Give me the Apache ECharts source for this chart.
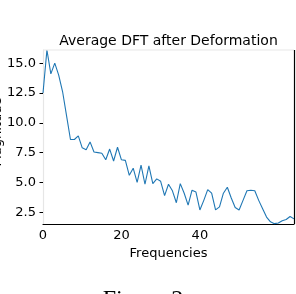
<!DOCTYPE html>
<html><head><meta charset="utf-8">
<script src="https://cdn.jsdelivr.net/npm/echarts@6/dist/echarts.min.js"></script>
<style>html,body{margin:0;padding:0;background:#fff}#c{width:296px;height:294px}</style>
</head><body><div id="c"></div>
<script>
const titleText = "Average DFT after Deformation";
const xLabel = "Frequencies";
const yLabel = "Magnitude";
const caption = "Figure 2";
const yTicks = [2.5, 5.0, 7.5, 10.0, 12.5, 15.0];
const xTicks = [0, 20, 40, 60];
const magnitudes = [
  12.5, 16.1, 14.1, 15.0, 14.0, 12.6, 10.6, 8.6, 8.6, 8.9,
  7.9, 7.75, 8.4, 7.55, 7.5, 7.45, 6.9, 7.8, 6.8, 7.95,
  6.9, 6.85, 5.6, 6.2, 5.0, 6.45, 4.85, 6.4, 4.9, 5.3,
  5.1, 3.9, 4.85, 4.3, 3.3, 4.9, 4.1, 3.1, 4.35, 4.2,
  2.7, 3.5, 4.4, 4.1, 2.7, 2.95, 4.1, 4.6, 3.7, 2.9,
  2.7, 3.5, 4.3, 4.35, 4.3, 3.5, 2.8, 2.1, 1.7, 1.55,
  1.6, 1.8, 1.9, 2.15, 1.95
];
const frequencies = magnitudes.map((_, i) => i);

const chart = echarts.init(document.getElementById('c'), null, {renderer: 'canvas'});
const font = 'DejaVu Sans';
chart.setOption({
  animation: false,
  backgroundColor: '#fff',
  grid: {left: 43, right: 2, top: 50, bottom: 70, containLabel: false},
  xAxis: {
    type: 'value', min: 0, max: 64, interval: 20,
    axisLine: {show: true, lineStyle: {color: '#000', width: 1.2}},
    axisTick: {show: false},
    splitLine: {show: false},
    axisLabel: {show: true, color: '#000', fontFamily: font, fontSize: 13, margin: 5, showMaxLabel: false,
      customValues: xTicks},
    name: xLabel, nameLocation: 'middle', nameGap: 21,
    nameTextStyle: {color: '#000', fontFamily: font, fontSize: 13}
  },
  yAxis: {
    type: 'value', min: 1.52, max: 16.1,
    axisLine: {show: true, lineStyle: {color: '#e6e6e6', width: 1.2}},
    axisTick: {show: true, length: 3.5, inside: false, lineStyle: {color: '#000', width: 1}, customValues: yTicks},
    splitLine: {show: false},
    axisLabel: {show: true, color: '#000', fontFamily: font, fontSize: 13, margin: 7,
      customValues: yTicks, formatter: v => v.toFixed(1)}
  },
  graphic: [
    {type: 'line', shape: {x1: 43, y1: 50, x2: 294, y2: 50}, style: {stroke: '#e8e8e8', lineWidth: 1.2}, z: 10},
    {type: 'line', shape: {x1: 294.5, y1: 50, x2: 294.5, y2: 224}, style: {stroke: '#000', lineWidth: 1.2}, z: 10},
    {type: 'text', x: 168.5, y: 41, style: {text: titleText, fontFamily: font, fontSize: 14, fill: '#000', textAlign: 'center', textVerticalAlign: 'middle'}},
    {type: 'text', x: -2, y: 132, rotation: Math.PI / 2, style: {text: yLabel, fontFamily: font, fontSize: 13, fill: '#000', textAlign: 'center', textVerticalAlign: 'middle'}},
    {type: 'text', x: 143, y: 288, style: {text: caption, fontFamily: 'Liberation Serif', fontSize: 24, fill: '#000', textAlign: 'center', textVerticalAlign: 'top'}}
  ],
  series: [{
    type: 'line', data: frequencies.map((f, i) => [f, magnitudes[i]]),
    showSymbol: false, symbol: 'none',
    lineStyle: {color: '#1f77b4', width: 1.1},
    clip: true
  }]
});
</script></body></html>
